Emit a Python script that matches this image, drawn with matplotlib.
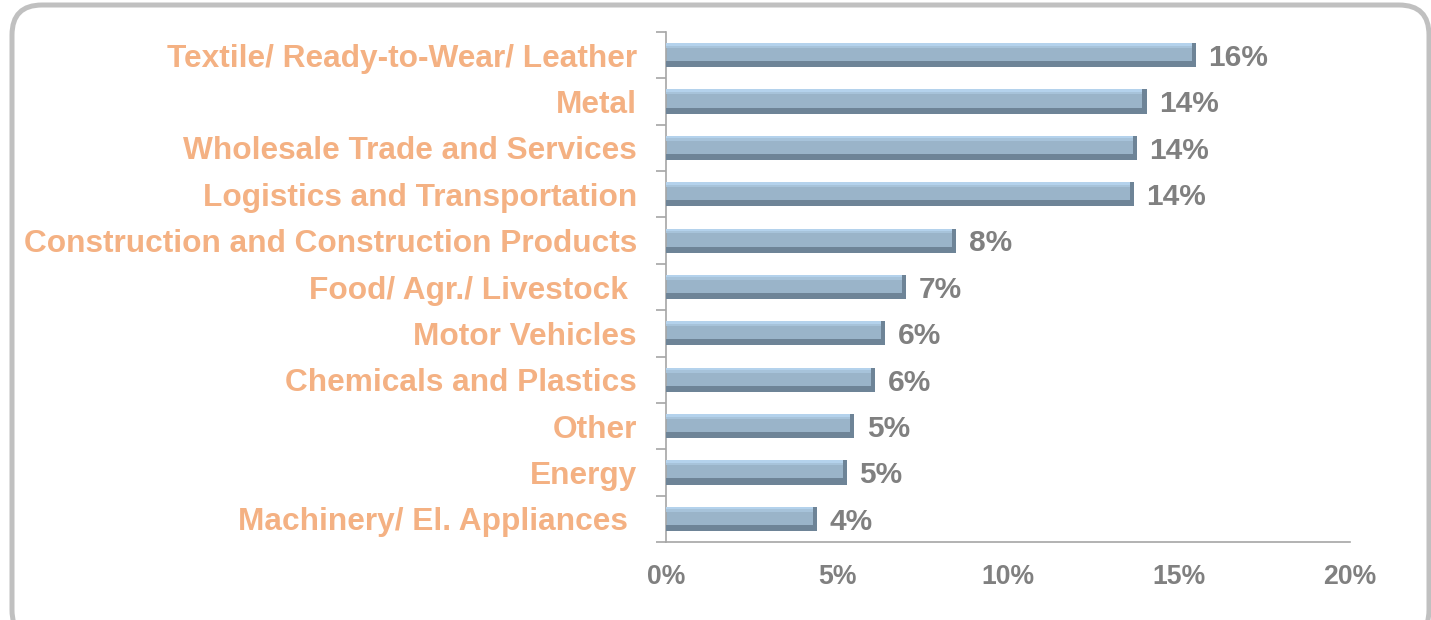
import numpy as np
import matplotlib.pyplot as plt
from matplotlib.patches import FancyBboxPatch
from matplotlib.transforms import IdentityTransform

plt.rcParams['font.family'] = ['Liberation Sans', 'DejaVu Sans']

# sector shares (top to bottom)
sectors = ["Textile/ Ready-to-Wear/ Leather", "Metal", "Wholesale Trade and Services",
           "Logistics and Transportation", "Construction and Construction Products",
           "Food/ Agr./ Livestock ", "Motor Vehicles", "Chemicals and Plastics",
           "Other", "Energy", "Machinery/ El. Appliances "]
shares = [15.5, 14.05, 13.77, 13.68, 8.48, 7.02, 6.40, 6.11, 5.50, 5.29, 4.42]
share_labels = ["16%", "14%", "14%", "14%", "8%", "7%", "6%", "6%", "5%", "5%", "4%"]
xticks = [0, 5, 10, 15, 20]

fig = plt.figure(figsize=(14.31, 6.2), dpi=100)

# rounded frame around the chart (pixel coords)
frame = FancyBboxPatch((12, -20), 1417, 635,
                       boxstyle="round,pad=0,rounding_size=30",
                       transform=IdentityTransform(), fc='none', ec='#c0c0c0', lw=3.6,
                       zorder=-1)
fig.patches.append(frame)

ax = fig.add_axes([666 / 1431, 1 - 542 / 620, (1350 - 666) / 1431, (542 - 32) / 620])
ax.patch.set_alpha(0)
y = np.arange(len(sectors))
h = 0.52
vals = np.array(shares)

# main body, light top, dark bottom and right cap for the bevelled look
ax.barh(y, vals, height=h, color='#9ab4c9', zorder=2)
ax.barh(y - h / 2 + 0.03, vals, height=0.06, color='#b4d2ec', zorder=3)
ax.barh(y - h / 2 + 0.08, vals, height=0.05, color='#a7c3da', zorder=3)
ax.barh(y + h / 2 - 0.065, vals, height=0.13, color='#6e8497', zorder=3)
ax.barh(y, np.full(len(y), 0.12), left=vals - 0.12, height=h, color='#6e8497', zorder=4)

for yi, v, lab in zip(y, vals, share_labels):
    ax.annotate(lab, (v, yi), xytext=(9, -2), textcoords='offset points',
                va='center', ha='left', fontsize=21.5, fontweight='bold', color='#808080')

ax.set_ylim(len(sectors) - 0.5, -0.5)
ax.set_xlim(0, 20)
ax.set_yticks(y)
ax.set_yticklabels(sectors, fontsize=22.8, fontweight='bold', color='#f4b183')
ax.set_yticks(np.arange(len(sectors) + 1) - 0.5, minor=True)
ax.tick_params(axis='y', which='major', length=0, pad=21)
ax.tick_params(axis='y', which='minor', length=7, color='#a6a6a6', width=1.2)
ax.set_xticks(xticks)
ax.set_xticklabels([f"{t}%" for t in xticks], fontsize=19.2, fontweight='bold', color='#808080')
ax.tick_params(axis='x', length=0, pad=16)

for s in ['top', 'right']:
    ax.spines[s].set_visible(False)
for s in ['left', 'bottom']:
    ax.spines[s].set_color('#a6a6a6')
    ax.spines[s].set_linewidth(1.2)

fig.savefig('out.png', dpi=100)
